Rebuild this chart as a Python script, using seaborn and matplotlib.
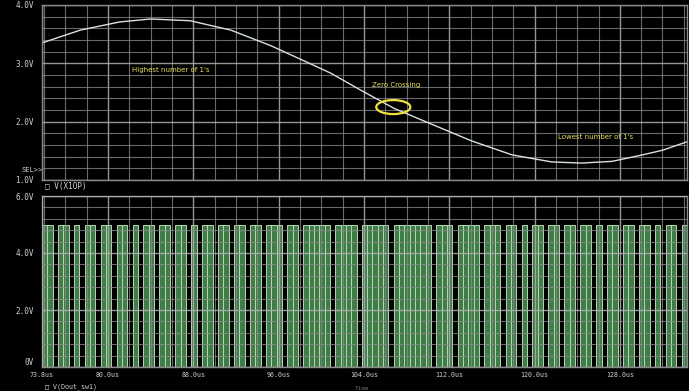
import numpy as np
import pandas as pd
import seaborn as sns
import matplotlib.pyplot as plt
from matplotlib.patches import Ellipse
from matplotlib.ticker import MultipleLocator

# ----- Data -----
# V(X1OP): analog input trace, points picked along the curve
time_us = [73.8, 77.4, 81.1, 84.0, 87.7, 91.5, 95.3, 99.0, 100.9, 103.7,
           106.8, 110.3, 114.1, 117.9, 121.6, 124.4, 127.3, 130.1, 132.0, 134.7]
x1op_v = [3.35, 3.57, 3.71, 3.76, 3.73, 3.57, 3.30, 2.99, 2.83, 2.54,
          2.23, 1.96, 1.67, 1.43, 1.31, 1.29, 1.32, 1.43, 1.51, 1.68]

# V(Dout_sw1): output bitstream, one bit per clock starting at t_start
t_start = 73.8
clock_us = 0.5
dout_bits = ("1101101011" "0110110101" "1011011010" "1101101101"
             "1011101101" "1111011110" "1111101111" "1110111011"
             "1101110110" "1011011011" "0110101101" "1011010110" "11")
dout_high = 5.0

t_end = 134.3
xtick_vals = [73.8, 80, 88, 96, 104, 112, 120, 128]
xtick_labels = ["73.8us", "80.0us", "88.0us", "96.0us", "104.0us",
                "112.0us", "120.0us", "128.0us"]
top_yticks = [1, 2, 3, 4]
top_ylabels = ["1.0V", "2.0V", "3.0V", "4.0V"]
bot_yticks = [0, 2, 4, 6]
bot_ylabels = ["0V", "2.0V", "4.0V", "6.0V"]

# ----- Style -----
sns.set_theme(style="dark", rc={
    "figure.facecolor": "black",
    "axes.facecolor": "black",
    "axes.edgecolor": "#8a8a8a",
    "text.color": "#d0d0d0",
    "xtick.color": "#d0d0d0",
    "ytick.color": "#d0d0d0",
})
plt.rcParams["font.family"] = ["DejaVu Sans Mono", "DejaVu Sans"]

fig = plt.figure(figsize=(6.89, 3.91), dpi=100)
ax_top = fig.add_axes([42 / 689, 1 - 180 / 391, 645 / 689, 175 / 391])
ax_bot = fig.add_axes([42 / 689, 1 - 367 / 391, 645 / 689, 171 / 391])


def grid_axes(ax, ymin, ymax, yminor, yticks, ylabels):
    ax.set_xlim(t_start, t_end)
    ax.set_ylim(ymin, ymax)
    ax.xaxis.set_minor_locator(MultipleLocator(2))
    ax.yaxis.set_minor_locator(MultipleLocator(yminor))
    ax.set_yticks(yticks)
    ax.set_yticklabels(ylabels, fontsize=5.5)
    ax.grid(which="minor", color="#8c8c8c", lw=0.8, alpha=0.75)
    ax.grid(which="major", color="#b0b0b0", lw=1.0, alpha=0.85)
    ax.tick_params(axis="y", which="both", length=0, pad=6)
    ax.tick_params(axis="x", which="both", length=0, pad=3.5)
    for s in ax.spines.values():
        s.set_color("#8a8a8a")
        s.set_linewidth(1.0)


# top panel: analog signal
grid_axes(ax_top, 1, 4, 0.2, top_yticks, top_ylabels)
ax_top.set_xticks(xtick_vals)
ax_top.set_xticklabels([])
sns.lineplot(x=time_us, y=x1op_v, ax=ax_top, color="#d6e2e0", lw=1.0)
ax_top.set_xlabel("")
ax_top.set_ylabel("")

ann = dict(color="#e6e05a", fontsize=5, ha="center", va="center",
           family="DejaVu Sans")
ax_top.text(85.9, 2.88, "Highest number of 1's", **ann)
ax_top.text(107.0, 2.63, "Zero Crossing", **ann)
ax_top.text(125.7, 1.74, "Lowest number of 1's", **ann)
ax_top.add_patch(Ellipse((106.75, 2.25), 3.2, 0.24, fill=False,
                         edgecolor="#f0e040", lw=1.6, zorder=5))

# bottom panel: bitstream
grid_axes(ax_bot, 0, 6, 0.4, bot_yticks, bot_ylabels)
ax_bot.set_xticks(xtick_vals)
ax_bot.set_xticklabels(xtick_labels, fontsize=4.8)
bits = pd.DataFrame({"bit": [int(b) for b in dout_bits]})
bits["t"] = t_start + clock_us * bits.index
ones = bits[bits["bit"] == 1]
ax_bot.bar(ones["t"], dout_high, width=clock_us, align="edge",
           color="#3f7d48", edgecolor="#b9d6b4", linewidth=0.7, zorder=1)
ax_bot.set_axisbelow(False)
ax_bot.get_yticklabels()[0].set_va("bottom")

# labels outside the plot areas
fig.text(22 / 689, 1 - 170 / 391, "SEL>>", fontsize=5, va="center",
         color="#d0d0d0")
fig.text(45 / 689, 1 - 187 / 391, "\u25a1 V(X1OP)", fontsize=5.5,
         va="center", color="#d0d0d0")
fig.text(45 / 689, 1 - 386.5 / 391, "\u25a1 V(Dout_sw1)", fontsize=4.8,
         va="center", color="#d0d0d0")
fig.text(362 / 689, 1 - 388.5 / 391, "Time", fontsize=4.3, va="center",
         ha="center", color="#707070")

fig.savefig("out.png", dpi=100, facecolor="black")
